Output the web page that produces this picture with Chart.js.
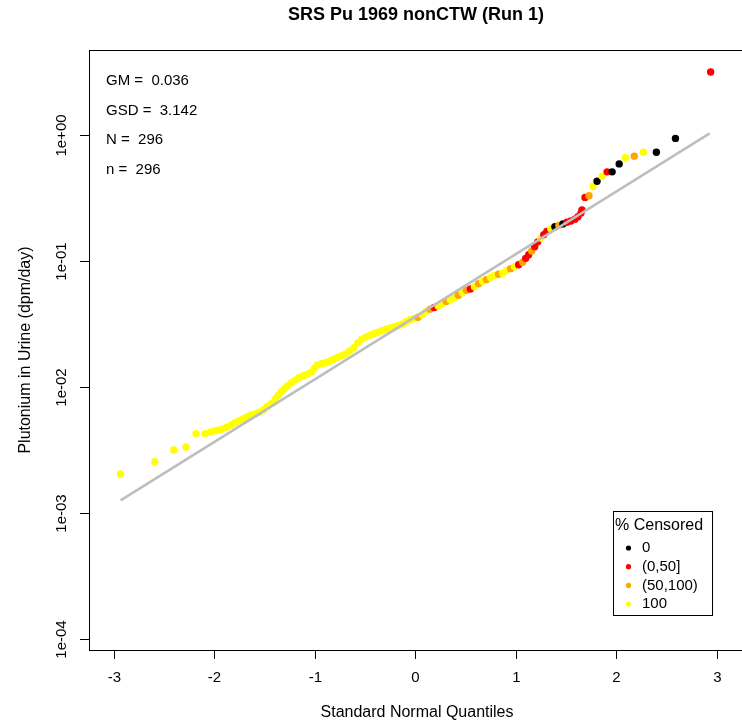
<!DOCTYPE html>
<html>
<head>
<meta charset="utf-8">
<script src="https://cdn.jsdelivr.net/npm/chart.js@4.4.1/dist/chart.umd.min.js"></script>
<style>
  html, body { margin: 0; padding: 0; background: #fff; overflow: hidden; }
  canvas { display: block; }
</style>
</head>
<body>
<canvas id="qq" width="742" height="724"></canvas>
<script>
// Q-Q plot de Pu en orina, SRS 1969 nonCTW (Run 1)
const quantiles = [
    -2.93, -2.59, -2.40, -2.28, -2.18, -2.09, -2.03, -1.98, -1.93, -1.88,
    -1.83, -1.79, -1.75, -1.71, -1.67, -1.63, -1.59, -1.55, -1.51, -1.47,
    -1.43, -1.39, -1.36, -1.33, -1.30, -1.27, -1.23, -1.19, -1.15, -1.11,
    -1.07, -1.03, -1.00, -0.97, -0.93, -0.89, -0.85, -0.81, -0.77, -0.73,
    -0.69, -0.65, -0.61, -0.57, -0.53, -0.49, -0.45, -0.41, -0.37, -0.33,
    -0.29, -0.25, -0.21, -0.17, -0.13, -0.09, -0.05, -0.01, 0.03, 0.07,
    0.11, 0.15, 0.19, 0.23, 0.27, 0.31, 0.35, 0.39, 0.43, 0.47,
    0.51, 0.55, 0.59, 0.63, 0.67, 0.71, 0.75, 0.79, 0.83, 0.87,
    0.91, 0.95, 0.99, 1.03, 1.07, 1.10, 1.13, 1.16, 1.19, 1.22,
    1.25, 1.28, 1.31, 1.35, 1.39, 1.43, 1.47, 1.51, 1.55, 1.59,
    1.62, 1.65, 1.66, 1.69, 1.73, 1.77, 1.81, 1.86, 1.91, 1.96,
    2.03, 2.09, 2.18, 2.27, 2.40, 2.59, 2.94
];
const puUrine = [
    0.00204, 0.00255, 0.00316, 0.00334, 0.00427, 0.00427, 0.00442, 0.00452, 0.00462, 0.00478,
    0.0050, 0.0052, 0.0054, 0.0056, 0.0058, 0.0060, 0.0061, 0.0063, 0.0066, 0.0070,
    0.0074, 0.0080, 0.0086, 0.0092, 0.0097, 0.0102, 0.0108, 0.0114, 0.0119, 0.0123,
    0.0127, 0.0132, 0.0142, 0.0150, 0.0153, 0.0156, 0.0160, 0.0166, 0.0172, 0.0177,
    0.0183, 0.0193, 0.0205, 0.0225, 0.0240, 0.0249, 0.0258, 0.0265, 0.0272, 0.0280,
    0.0288, 0.0294, 0.0300, 0.0306, 0.0315, 0.0330, 0.0342, 0.0350, 0.0358, 0.0375,
    0.0400, 0.0415, 0.0428, 0.0440, 0.0460, 0.0478, 0.0492, 0.0510, 0.0535, 0.0560,
    0.0585, 0.0600, 0.0625, 0.0660, 0.0690, 0.0712, 0.0740, 0.0770, 0.0785, 0.0800,
    0.0840, 0.0870, 0.0900, 0.0935, 0.0980, 0.1050, 0.1120, 0.1200, 0.1300, 0.1420,
    0.1520, 0.1620, 0.1720, 0.1800, 0.1870, 0.1920, 0.1970, 0.2030, 0.2080, 0.2150,
    0.2250, 0.2400, 0.2540, 0.32, 0.33, 0.39, 0.43, 0.47, 0.51, 0.51,
    0.59, 0.66, 0.68, 0.73, 0.73, 0.94, 3.16
];
// 0 = "0", 1 = "(0,50]", 2 = "(50,100)", 3 = "100"
const censGroup = [
    3, 3, 3, 3, 3, 3, 3, 3, 3, 3,
    3, 3, 3, 3, 3, 3, 3, 3, 3, 3,
    3, 3, 3, 3, 3, 3, 3, 3, 3, 3,
    3, 3, 3, 3, 3, 3, 3, 3, 3, 3,
    3, 3, 3, 3, 3, 3, 3, 3, 3, 3,
    3, 3, 3, 3, 3, 3, 3, 3, 2, 3,
    3, 2, 1, 3, 3, 2, 3, 3, 2, 3,
    2, 1, 3, 2, 3, 2, 3, 3, 2, 3,
    3, 2, 3, 1, 2, 1, 1, 2, 1, 1,
    3, 1, 1, 3, 0, 2, 0, 1, 1, 1,
    1, 1, 1, 1, 2, 3, 0, 3, 1, 0,
    0, 3, 2, 3, 0, 0, 1
];
const groupLabels = ['0', '(0,50]', '(50,100)', '100'];
const groupColors = ['#000000', '#ff0000', '#ffa500', '#ffff00'];

const fitQ = [-2.93, 2.93];
const fitPu = [0.00126, 1.03];

const xTicks = [-3, -2, -1, 0, 1, 2, 3];
const yTicks = [1e-4, 1e-3, 1e-2, 1e-1, 1];
const yTickLabels = ['1e-04', '1e-03', '1e-02', '1e-01', '1e+00'];
const statLines = ['GM =  0.036', 'GSD =  3.142', 'N =  296', 'n =  296'];

const FONT = '"Liberation Sans", Arial, sans-serif';

const rFrame = {
    id: 'rFrame',
    afterDraw: function (chart) {
        const ctx = chart.ctx;
        const xs = chart.scales.x;
        const ys = chart.scales.y;
        const a = chart.chartArea;
        ctx.save();
        ctx.strokeStyle = '#000';
        ctx.fillStyle = '#000';
        ctx.lineWidth = 1;

        // caja
        ctx.strokeRect(a.left + 0.5, a.top + 0.5, a.right - a.left + 4, a.bottom - a.top);

        // eje x
        ctx.font = '15px ' + FONT;
        ctx.textAlign = 'center';
        ctx.textBaseline = 'middle';
        xTicks.forEach(function (t) {
            const px = Math.round(xs.getPixelForValue(t)) + 0.5;
            ctx.beginPath();
            ctx.moveTo(px, a.bottom);
            ctx.lineTo(px, a.bottom + 9);
            ctx.stroke();
            ctx.fillText(String(t), px, a.bottom + 28);
        });

        // eje y
        yTicks.forEach(function (t, i) {
            const py = Math.round(ys.getPixelForValue(t)) + 0.5;
            ctx.beginPath();
            ctx.moveTo(a.left, py);
            ctx.lineTo(a.left - 9, py);
            ctx.stroke();
            ctx.save();
            ctx.translate(a.left - 27, py);
            ctx.rotate(-Math.PI / 2);
            ctx.fillText(yTickLabels[i], 0, 0);
            ctx.restore();
        });

        ctx.font = '16px ' + FONT;
        ctx.fillText('Standard Normal Quantiles', 417, 713);
        ctx.save();
        ctx.translate(26, (a.top + a.bottom) / 2);
        ctx.rotate(-Math.PI / 2);
        ctx.fillText('Plutonium in Urine (dpm/day)', 0, 0);
        ctx.restore();

        // titulo
        ctx.font = 'bold 18px ' + FONT;
        ctx.fillText('SRS Pu 1969 nonCTW (Run 1)', 416, 15);

        // estadisticos
        ctx.font = '15px ' + FONT;
        ctx.textAlign = 'left';
        statLines.forEach(function (s, i) {
            ctx.fillText(s, 106, 81 + i * 29.5);
        });

        // leyenda
        ctx.fillStyle = '#fff';
        ctx.fillRect(613, 511, 99, 104);
        ctx.strokeRect(613.5, 511.5, 99, 104);
        ctx.fillStyle = '#000';
        ctx.font = '16px ' + FONT;
        ctx.fillText('% Censored', 615, 526);
        ctx.font = '15px ' + FONT;
        groupLabels.forEach(function (lab, i) {
            const cy = 548 + i * 18.7;
            ctx.fillStyle = groupColors[i];
            ctx.beginPath();
            ctx.arc(628.5, cy, 2.6, 0, Math.PI * 2);
            ctx.fill();
            ctx.fillStyle = '#000';
            ctx.fillText(lab, 642, cy);
        });
        ctx.restore();
    }
};

const points = quantiles.map(function (q, i) { return { x: q, y: puUrine[i] }; });
const fitLine = fitQ.map(function (q, i) { return { x: q, y: fitPu[i] }; });

new Chart(document.getElementById('qq'), {
    type: 'scatter',
    data: {
        datasets: [
            {
                type: 'line',
                data: fitLine,
                borderColor: '#bebebe',
                borderWidth: 2.5,
                pointRadius: 0,
                fill: false,
                order: 0,
            },
            {
                data: points,
                pointBackgroundColor: censGroup.map(function (g) { return groupColors[g]; }),
                pointBorderWidth: 0,
                pointRadius: 3.7,
                pointHoverRadius: 3.7,
                order: 1,
            },
        ],
    },
    options: {
        responsive: false,
        animation: false,
        events: [],
        layout: { padding: { left: 89, right: 0, top: 50, bottom: 74 } },
        plugins: {
            legend: { display: false },
            tooltip: { enabled: false },
            title: { display: false },
        },
        scales: {
            x: { type: 'linear', min: -3.244, max: 3.215, display: false },
            y: { type: 'logarithmic', min: 8.18e-5, max: 4.73, display: false },
        },
    },
    plugins: [rFrame],
});
</script>
</body>
</html>
